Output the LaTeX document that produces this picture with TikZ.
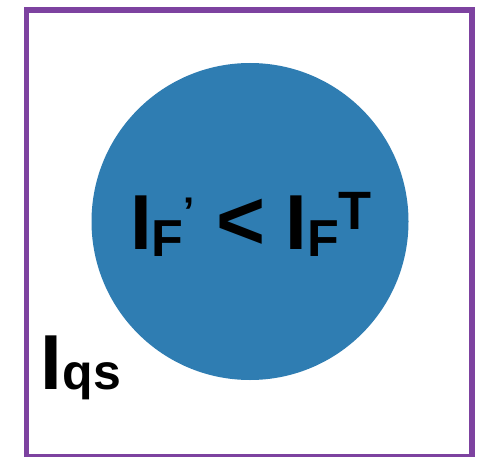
\documentclass[tikz,border=0pt]{standalone}
\usepackage{fontspec}
\setmainfont{Liberation Sans}
\definecolor{boxpurple}{RGB}{125,66,160}
\definecolor{discblue}{RGB}{47,125,178}
\newcommand{\fs}[1]{\fontsize{#1}{#1}\selectfont}
\begin{document}
\begin{tikzpicture}[x=1pt,y=1pt,
  lbl/.style={inner sep=0pt, outer sep=0pt, anchor=base west, font=\bfseries, text=black}]
\useasboundingbox (0,0) rectangle (478,456);
\draw[boxpurple, line width=5.5pt] (26.5,-0.5) rectangle (472,446);
\fill[discblue] (250,234.5) circle (158.5);
\node[lbl] (ineq) at (130,206.5) {\fs{78}I\raisebox{-7pt}{\fs{52}F}\raisebox{24pt}{\fs{40}’}\hspace{21.6pt}{\fs{84}<}\hspace{20.6pt}{\fs{78}I}\hspace{0.5pt}\raisebox{-7pt}{\fs{52}F}\hspace{-1pt}\raisebox{20.5pt}{\fs{54}T}};
\node[lbl] (iqs) at (40,67) {\fs{78}I\hspace{1.3pt}{\fs{50}qs}};
\end{tikzpicture}
\end{document}
